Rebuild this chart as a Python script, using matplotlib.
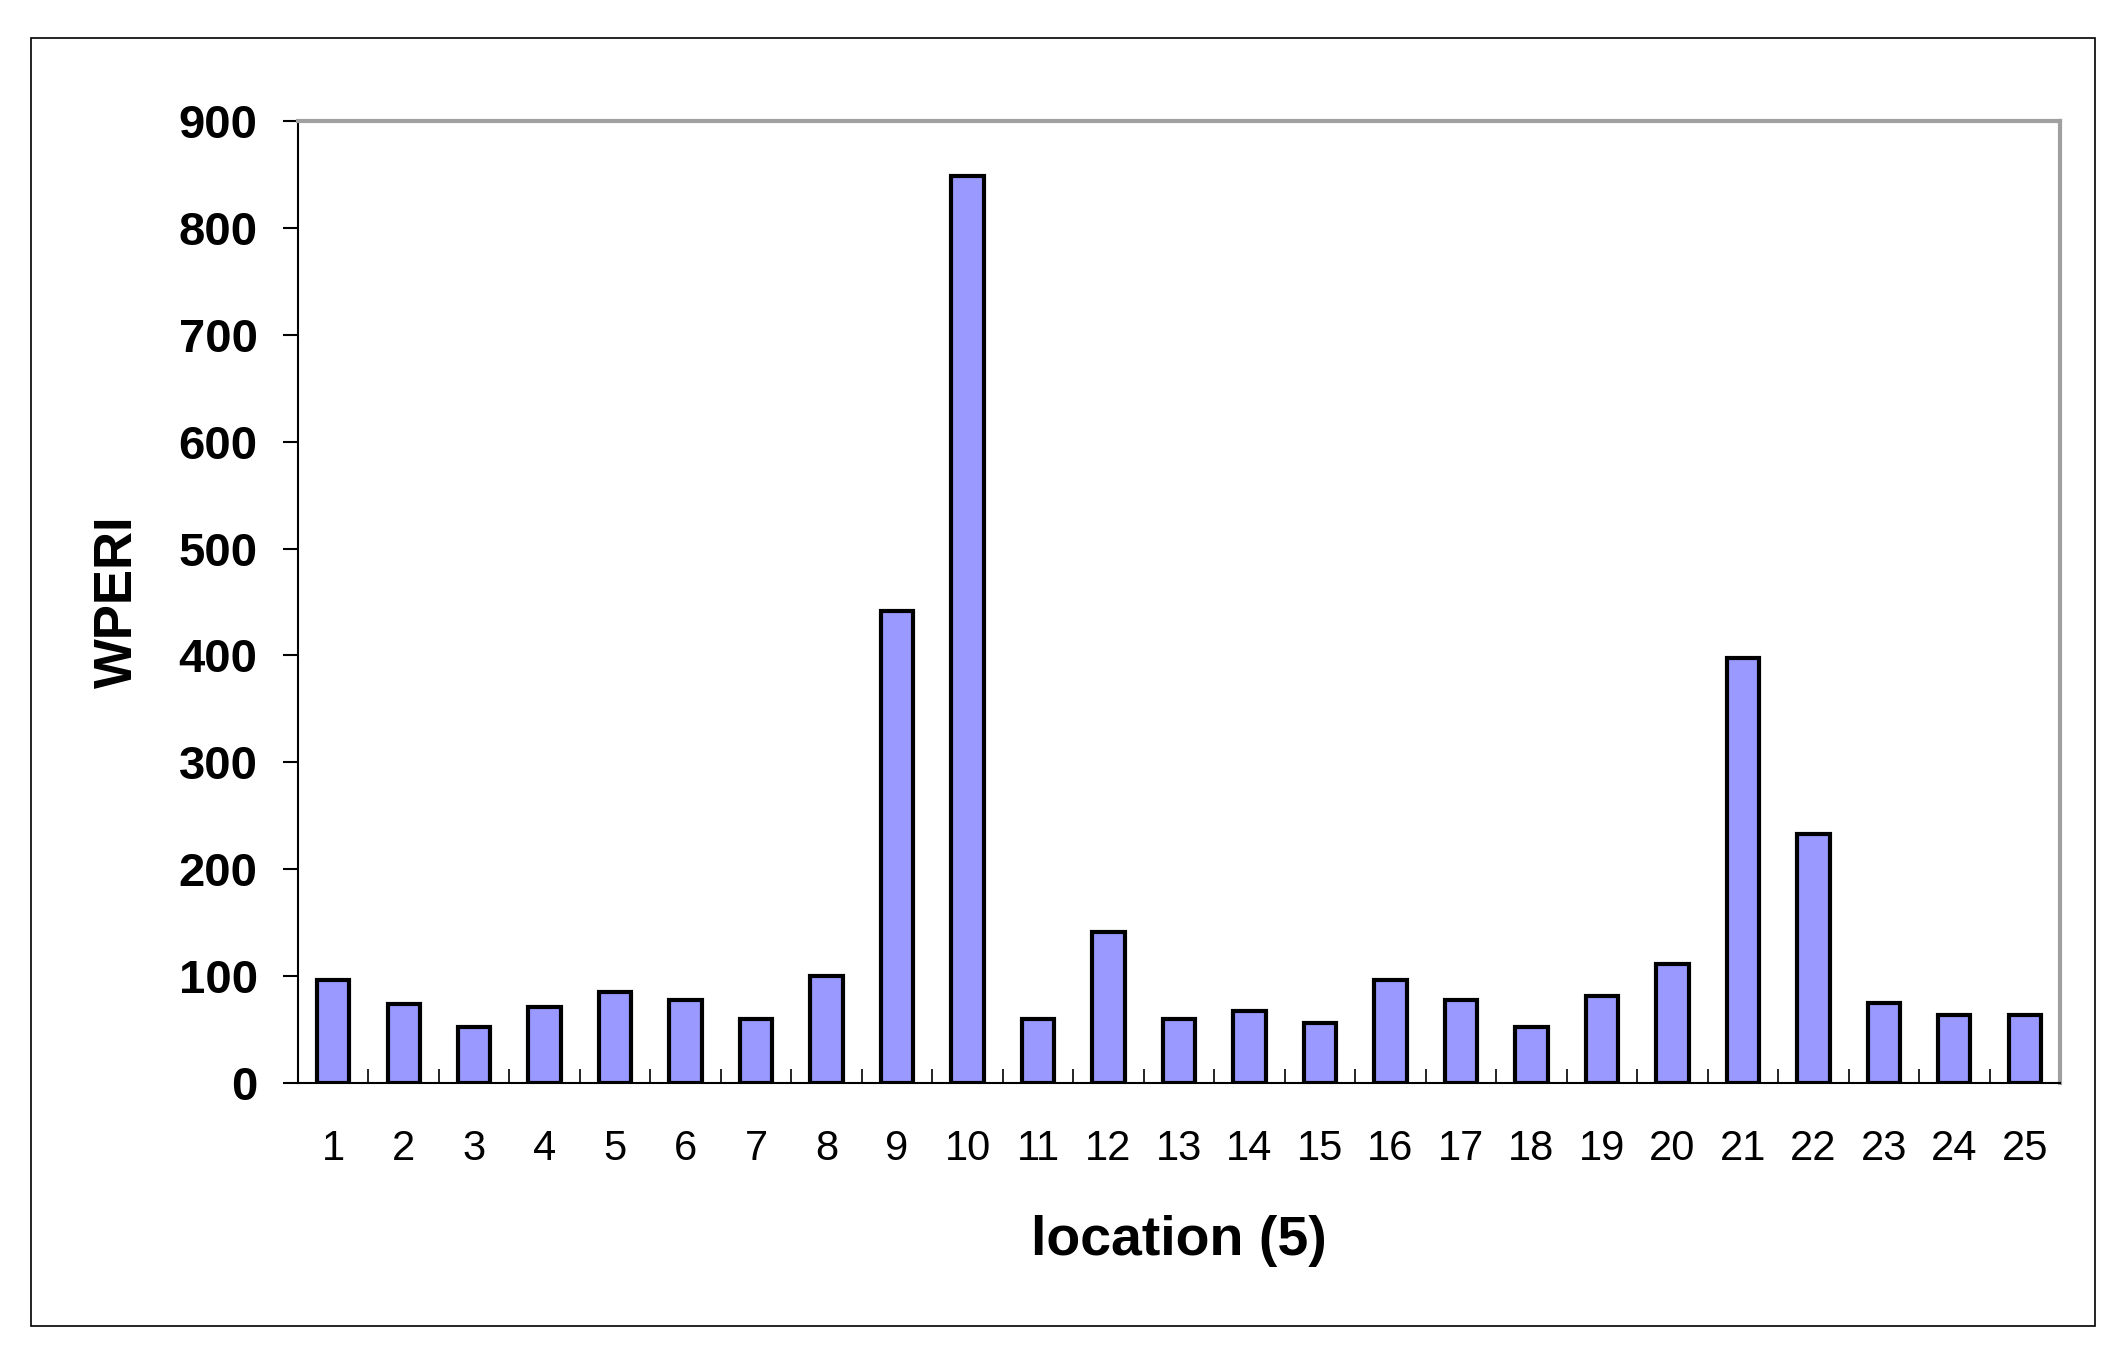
import matplotlib
matplotlib.use("Agg")
import matplotlib.pyplot as plt
from matplotlib.patches import Rectangle
from matplotlib.ticker import FixedLocator

locations = [1, 2, 3, 4, 5, 6, 7, 8, 9, 10, 11, 12, 13, 14, 15, 16, 17, 18, 19, 20, 21, 22, 23, 24, 25]
wperi = [96, 74, 52, 71, 85, 78, 60, 100, 442, 849, 60, 141, 60, 67, 56, 96, 78, 52, 81, 111, 398, 233, 75, 64, 64]
y_ticks = [0, 100, 200, 300, 400, 500, 600, 700, 800, 900]

plt.rcParams['font.family'] = ['Liberation Sans', 'DejaVu Sans']

W, H = 2128, 1368
fig = plt.figure(figsize=(W / 100, H / 100), dpi=100)
ax = fig.add_axes([298 / W, 1 - 1083 / H, (2060 - 298) / W, (1083 - 121) / H])

ax.bar(locations, wperi, width=0.46, color='#9999ff', edgecolor='black', linewidth=3, zorder=3)

ax.set_xlim(0.5, len(locations) + 0.5)
ax.set_ylim(0, 900)
ax.set_yticks(y_ticks)
ax.set_yticklabels([str(v) for v in y_ticks], fontweight='bold', fontsize=34)
ax.tick_params(axis='y', direction='out', length=11, width=1.5, pad=18, color='black')

ax.set_xticks(locations)
ax.set_xticklabels([str(v) for v in locations], fontsize=30)
ax.tick_params(axis='x', which='major', length=0, pad=33)
ax.xaxis.set_minor_locator(FixedLocator([i + 0.5 for i in range(0, len(locations) + 1)]))
ax.tick_params(axis='x', which='minor', direction='in', length=10, width=1.2, color='black')

for s in ['top', 'right']:
    ax.spines[s].set_color('#a0a0a0')
    ax.spines[s].set_linewidth(3)
for s in ['left', 'bottom']:
    ax.spines[s].set_color('black')
    ax.spines[s].set_linewidth(1.5)
ax.spines['bottom'].set_zorder(4)

ax.set_xlabel('location (5)', fontsize=40, fontweight='bold', va='center')
ax.xaxis.set_label_coords(0.5, -(1241 - 1083) / (1083 - 121))
ax.set_ylabel('WPERI', fontsize=38, fontweight='bold', va='center')
ax.yaxis.set_label_coords(-(298 - 118) / (2060 - 298), 0.5)

# outer chart border
fig.patches.append(Rectangle((31 / W, 1 - 1326 / H), (2095 - 31) / W, (1326 - 38) / H,
                             transform=fig.transFigure, fill=False, edgecolor='black', linewidth=1.2))

fig.savefig('out.png', dpi=100)
